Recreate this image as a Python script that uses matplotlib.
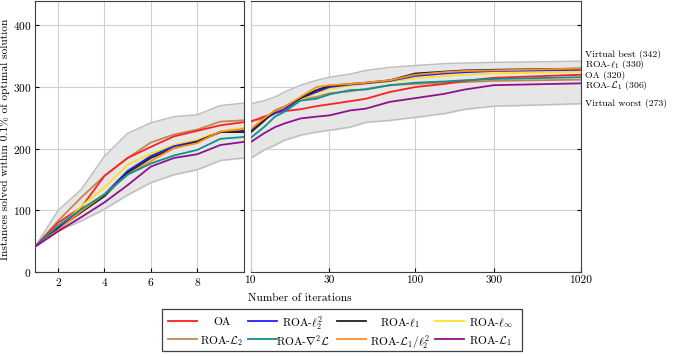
from matplotlib import pyplot as plt
from matplotlib.patches import Rectangle

plt.rcParams['font.family'] = ['cmr10', 'DejaVu Serif']
plt.rcParams['mathtext.fontset'] = 'cm'
plt.rcParams['axes.formatter.use_mathtext'] = True

# iterations 1..10 (linear part)
x_left = [1, 2, 3, 4, 5, 6, 7, 8, 9, 10]
best_left = [41, 100, 134, 188, 225, 242, 252, 255, 270, 274]
worst_left = [41, 67, 83, 102, 125, 145, 158, 166, 181, 185]
oa_left = [41, 80, 105, 156, 185, 203, 220, 229, 238, 243]
l22_left = [41, 72, 99, 126, 164, 188, 204, 212, 227, 229]
l1_left = [41, 70, 97, 123, 161, 185, 201, 211, 227, 227]
linf_left = [41, 70, 107, 137, 174, 192, 206, 215, 228, 234]
L2_left = [41, 83, 121, 156, 185, 210, 223, 231, 244, 246]
hess_left = [41, 75, 102, 126, 158, 176, 189, 198, 216, 219]
L1l22_left = [41, 68, 99, 126, 158, 180, 201, 209, 228, 232]
L1_left = [41, 66, 89, 113, 141, 171, 185, 191, 206, 211]

# iterations 10..1020 (log part)
x_right = [10, 12, 14, 16, 20, 25, 30, 40, 50, 70, 100, 150, 200, 300, 1020]
best_right = [273, 278, 284, 292, 303, 311, 316, 321, 327, 332, 335, 338, 339, 340, 342]
worst_right = [185, 198, 206, 214, 222, 227, 230, 235, 243, 246, 251, 257, 264, 269, 273]
oa_right = [244, 252, 258, 261, 264, 269, 272, 277, 281, 292, 300, 305, 310, 315, 320]
l22_right = [230, 247, 258, 264, 282, 292, 300, 304, 306, 310, 318, 322, 324, 326, 328]
l1_right = [227, 245, 262, 268, 282, 295, 302, 305, 307, 311, 322, 325, 327, 328, 330]
linf_right = [233, 248, 262, 267, 280, 290, 297, 302, 306, 309, 314, 318, 320, 322, 325]
L2_right = [245, 249, 257, 262, 280, 284, 290, 293, 297, 303, 305, 307, 308, 310, 312]
hess_right = [218, 235, 252, 260, 278, 281, 288, 295, 296, 303, 307, 309, 311, 313, 316]
L1l22_right = [232, 249, 262, 268, 284, 300, 303, 305, 307, 311, 320, 324, 326, 327, 330]
L1_right = [211, 225, 235, 241, 249, 252, 254, 262, 265, 276, 282, 289, 296, 303, 306]

labels = ['OA', r'ROA-$\ell_2^2$', r'ROA-$\ell_1$', r'ROA-$\ell_\infty$',
          r'ROA-$\mathcal{L}_2$', r'ROA-$\nabla^2\mathcal{L}$',
          r'ROA-$\mathcal{L}_1/\ell_2^2$', r'ROA-$\mathcal{L}_1$']
colors = ['#ff2020', '#2020ff', '#202020', '#ffe020',
          '#c08850', '#109090', '#ff9020', '#901090']
left_data = [oa_left, l22_left, l1_left, linf_left, L2_left, hess_left, L1l22_left, L1_left]
right_data = [oa_right, l22_right, l1_right, linf_right, L2_right, hess_right, L1l22_right, L1_right]
# draw order (back to front)
order = [4, 0, 3, 1, 2, 6, 5, 7]

end_labels = ['Virtual best (342)', r'ROA-$\ell_1$ (330)', 'OA (320)',
              r'ROA-$\mathcal{L}_1$ (306)', 'Virtual worst (273)']
end_pos = [353, 336, 319, 302, 274]

fs = 8.2
W, H = 685.0, 357.0

fig = plt.figure(figsize=(6.85, 3.57), dpi=100)
ax1 = fig.add_axes([0.051, 0.238, 0.3045, 0.760])
ax2 = fig.add_axes([0.3664, 0.238, 0.482, 0.760])

band = '#e6e6e6'
band_edge = '#bdbdbd'

# left panel
ax1.fill_between(x_left, worst_left, best_left, color=band, zorder=1)
ax1.plot(x_left, best_left, color=band_edge, lw=1, zorder=2)
ax1.plot(x_left, worst_left, color=band_edge, lw=1, zorder=2)
for i in order:
    ax1.plot(x_left, left_data[i], color=colors[i], lw=1.3, zorder=3)
ax1.set_xlim(1, 10)
ax1.set_ylim(0, 440)
ax1.set_xticks([2, 4, 6, 8])
ax1.set_yticks([0, 100, 200, 300, 400])
ax1.grid(color='#d0d0d0', lw=0.8)
ax1.set_axisbelow(True)
ax1.tick_params(direction='in', length=3, labelsize=fs, right=True, pad=2.5)
fig.text(4.5 / W, 1 - 139 / H, 'Instances solved within 0.1% of optimal solution',
         fontsize=fs, rotation=90, ha='center', va='center')

# right panel
ax2.fill_between(x_right, worst_right, best_right, color=band, zorder=1)
ax2.plot(x_right, best_right, color=band_edge, lw=1, zorder=2)
ax2.plot(x_right, worst_right, color=band_edge, lw=1, zorder=2)
for i in order:
    ax2.plot(x_right, right_data[i], color=colors[i], lw=1.3, zorder=3)
ax2.set_xscale('log')
ax2.set_xlim(10, 1020)
ax2.set_ylim(0, 440)
ax2.set_xticks([10, 30, 100, 300, 1020])
ax2.set_xticklabels(['10', '30', '100', '300', '1020'])
ax2.minorticks_off()
ax2.set_yticks([0, 100, 200, 300, 400])
ax2.grid(color='#d0d0d0', lw=0.8)
ax2.set_axisbelow(True)
ax2.tick_params(direction='in', length=3, labelsize=fs, left=False, labelleft=False, right=True, pad=2.5)
ax2.spines['left'].set_color('#c8c8c8')
for t, v in zip(end_labels, end_pos):
    ax2.text(1.012, v, t, transform=ax2.get_yaxis_transform(), fontsize=7, va='center', ha='left')

for ax in (ax1, ax2):
    for s in ('top', 'bottom', 'right'):
        ax.spines[s].set_color('#404040')
ax1.spines['left'].set_color('#404040')

fig.text(0.438, 0.158, 'Number of iterations', fontsize=fs, ha='center')

# legend box drawn by hand so both rows line up like the reference
fig.add_artist(Rectangle((162 / W, 1 - 351 / H), 360 / W, 42 / H, transform=fig.transFigure,
                         fill=False, edgecolor='#404040', lw=0.9))
handle_x = [(168, 197), (248, 277), (337, 366), (435, 464)]
text_x = [222, 303, 400, 491]
row_y = [321, 339]
for k in range(8):
    r, c = k // 4, k % 4
    yy = 1 - row_y[r] / H
    x0, x1 = handle_x[c]
    fig.add_artist(plt.Line2D([x0 / W, x1 / W], [yy, yy], transform=fig.transFigure,
                              color=colors[k], lw=1.3))
    fig.text(text_x[c] / W, yy, labels[k], fontsize=fs, ha='center', va='center_baseline')

plt.savefig('out.png', dpi=100)
